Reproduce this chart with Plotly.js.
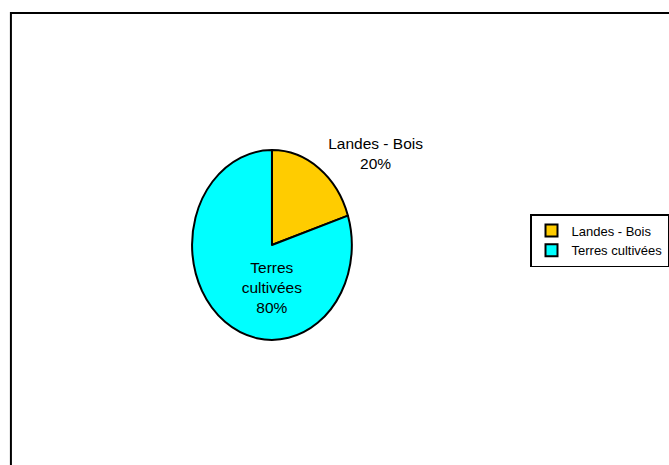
<!DOCTYPE html>
<html><head><meta charset="utf-8">
<script src="https://cdn.plot.ly/plotly-3.0.1.min.js"></script>
<style>html,body{margin:0;padding:0;background:#fff;overflow:hidden}</style>
</head><body>
<div id="chart" style="width:669px;height:465px"></div>
<script>
const labels = ['Landes - Bois', 'Terres cultivées'];
const sliceText = ['Landes - Bois', 'Terres<br>cultivées'];
const values = [20, 80];
const colors = ['#FFCC00', '#00FFFF'];
const textPositions = ['outside', 'inside'];

const W = 669, H = 465;
const cx = 274, cy = 245, r = 80.5, stretch = 95 / 80;
const FONT = 'Liberation Sans, Arial, sans-serif';

const trace = {
  type: 'pie',
  labels: labels,
  values: values,
  text: sliceText,
  texttemplate: '%{text}<br>%{percent:.0%}',
  textposition: textPositions,
  insidetextorientation: 'horizontal',
  textfont: {family: FONT, size: 15.5, color: '#000'},
  outsidetextfont: {family: FONT, size: 15.5, color: '#000'},
  insidetextfont: {family: FONT, size: 15.5, color: '#000'},
  sort: false,
  direction: 'clockwise',
  rotation: 0,
  automargin: false,
  hoverinfo: 'none',
  marker: {colors: colors, line: {color: '#000', width: 2}},
  domain: {x: [(cx - r) / W, (cx + r) / W], y: [1 - (cy + r) / H, 1 - (cy - r) / H]}
};

const layout = {
  width: W, height: H,
  margin: {l: 0, r: 0, t: 0, b: 0},
  paper_bgcolor: '#fff',
  showlegend: true,
  legend: {
    x: 534 / W, y: 1 - 214 / H, xanchor: 'left', yanchor: 'top',
    bordercolor: '#000', borderwidth: 1.5, bgcolor: '#fff',
    font: {family: FONT, size: 13, color: '#000'}
  },
  shapes: [{
    type: 'rect', xref: 'paper', yref: 'paper',
    x0: 11 / W, x1: 1.05, y0: -0.05, y1: 1 - 13 / H,
    line: {color: '#000', width: 2}, fillcolor: 'rgba(0,0,0,0)', layer: 'below'
  }]
};

Plotly.newPlot('chart', [trace], layout, {displayModeBar: false, staticPlot: true}).then(function (gd) {
  const tr = gd.querySelector('.pielayer .trace');
  if (!tr) return;
  tr.querySelectorAll('g.slicetext').forEach(function (g) {
    const b = g.getBBox();
    const Y = b.y + b.height / 2;
    const prev = g.getAttribute('transform') || '';
    g.setAttribute('transform', 'translate(0,' + Y + ') scale(1,' + (1 / stretch) + ') translate(0,' + (-Y) + ') ' + prev);
  });
  tr.querySelectorAll('path').forEach(function (p) { p.style.vectorEffect = 'non-scaling-stroke'; });
  const prevT = tr.getAttribute('transform') || '';
  tr.setAttribute('transform', 'translate(0,' + cy + ') scale(1,' + stretch + ') translate(0,' + (-cy) + ') ' + prevT);
});
</script>
</body></html>
